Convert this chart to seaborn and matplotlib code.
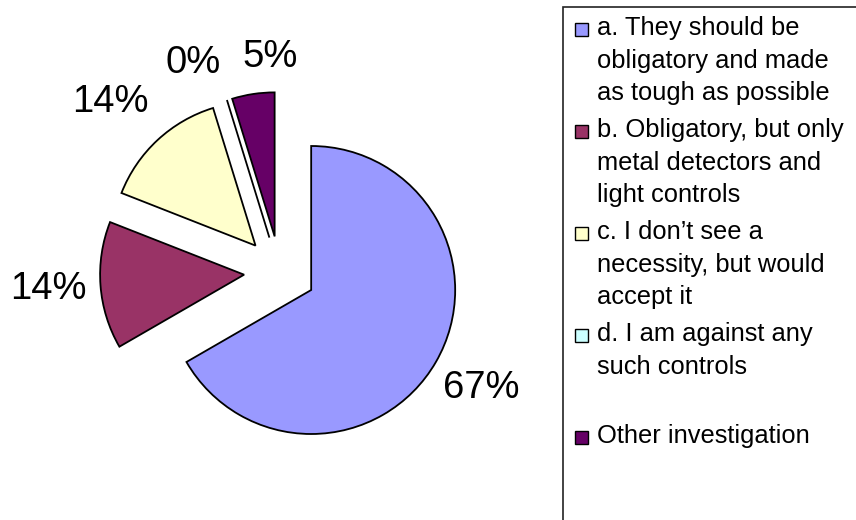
import matplotlib
matplotlib.use("Agg")
import matplotlib.pyplot as plt
from matplotlib.patches import Rectangle
import seaborn as sns

# survey answers (21 respondents)
categories = [
    "a. They should be\nobligatory and made\nas tough as possible",
    "b. Obligatory, but only\nmetal detectors and\nlight controls",
    "c. I don\u2019t see a\nnecessity, but would\naccept it",
    "d. I am against any\nsuch controls",
    "Other investigation",
]
counts = [14, 3, 3, 0, 1]
colors = ["#9999FF", "#993366", "#FFFFCC", "#CCFFFF", "#660066"]

sns.set_style("white")
plt.rcParams["font.family"] = ["Liberation Sans", "DejaVu Sans"]
plt.rcParams["text.color"] = "black"

W, H = 856, 520
fig = plt.figure(figsize=(W / 100, H / 100), dpi=100)
ax = fig.add_axes([0, 0, 560 / W, 1])

wedges, texts, autotexts = ax.pie(
    counts, colors=colors, startangle=90, counterclock=False,
    explode=[0.25] * len(counts), autopct="%1.0f%%", pctdistance=1.36,
    wedgeprops=dict(edgecolor="black", linewidth=1.3),
    textprops=dict(fontsize=27.5, color="black"),
)
# pie centre at (280, 272) px, radius 144 px
ax.set_xlim(-280 / 144, 280 / 144)
ax.set_ylim(-248 / 144, 272 / 144)
ax.set_aspect("equal")

# spread the crowded labels of the small slices a bit, like Excel does
nudges = [(0, 0), (0, 0), (-0.08, 0), (-0.13, -0.09), (0.17, -0.10)]
for t, (dx, dy) in zip(autotexts, nudges):
    x, y = t.get_position()
    t.set_position((x + dx, y + dy))

# legend box, running off the right and bottom edge
fig.add_artist(Rectangle((563 / W, -0.05), 1, 1.05 - 7 / H, fill=False,
                         edgecolor="#222222", lw=1.2, transform=fig.transFigure))
for i, (lab, col) in enumerate(zip(categories, colors)):
    base = 35 + i * 102
    fig.add_artist(Rectangle((575 / W, 1 - (base + 1) / H), 13 / W, 13 / H,
                             facecolor=col, edgecolor="black", lw=1,
                             transform=fig.transFigure))
    fig.text(597 / W, 1 - (base - 19) / H, lab, fontsize=18.4, va="top",
             ha="left", linespacing=1.45)

fig.savefig("out.png", dpi=100)
